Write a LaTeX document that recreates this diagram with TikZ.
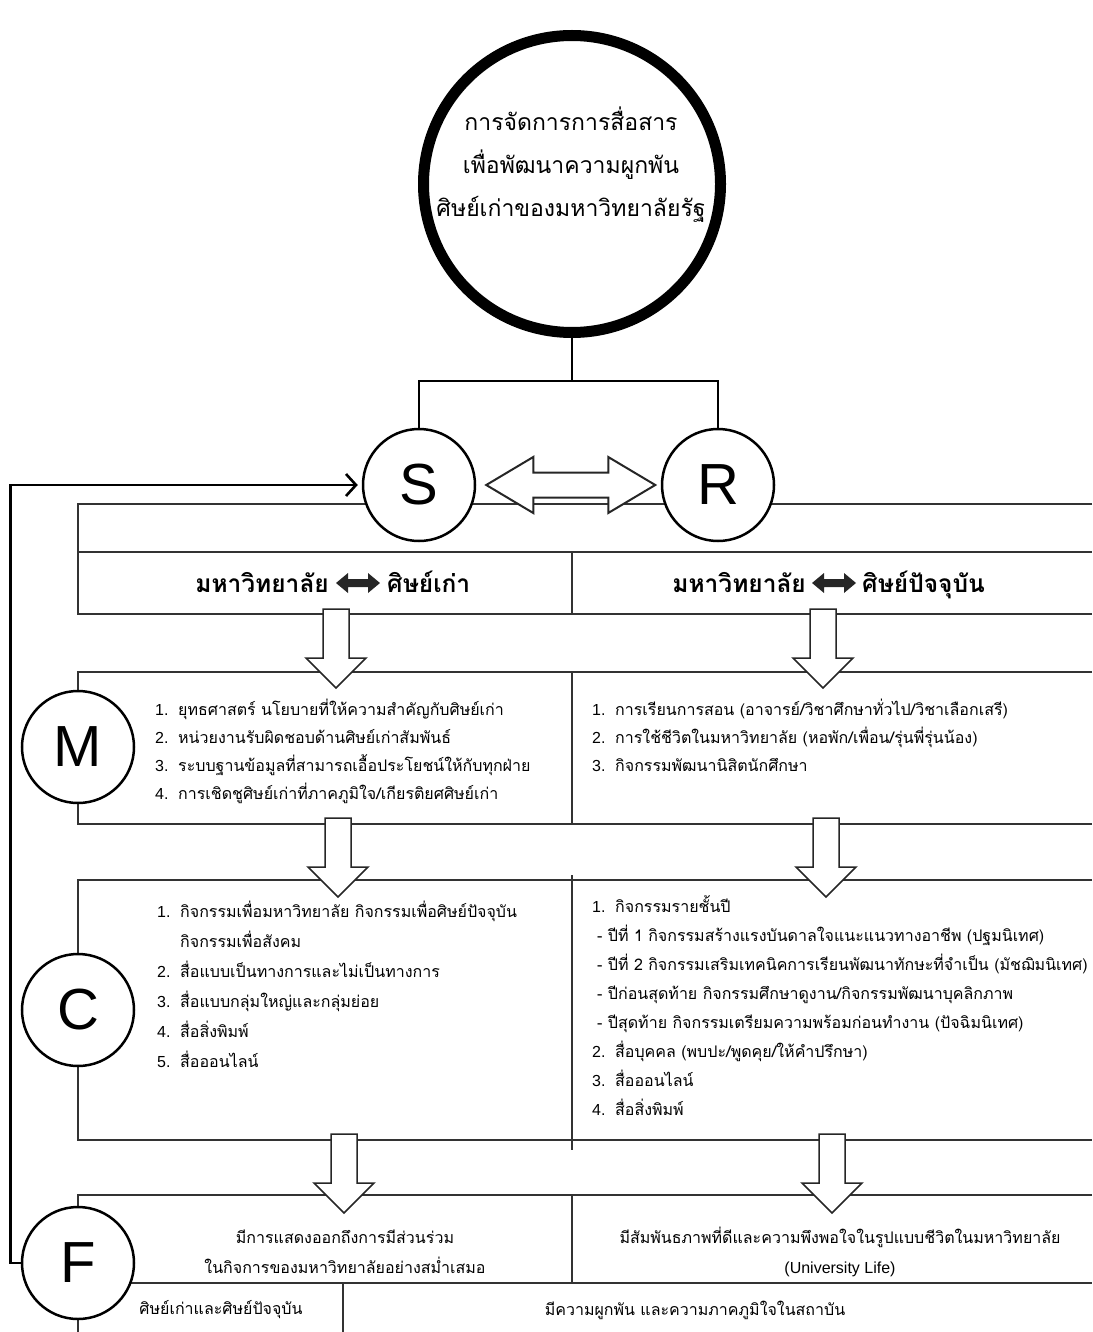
\documentclass[tikz,border=0pt]{standalone}
\usepackage{fontspec}
\setmainfont{Liberation Sans}
\newfontfamily\latinfont{Liberation Sans}
\newfontfamily\thaifont[Script=Thai]{Loma}
\usetikzlibrary{arrows.meta}

\newcommand{\blockdown}[2]{%
  \draw[blockarrow, shift={(#1)}] (-13,0) -- (13,0) -- (13,#2-30) -- (30,#2-30)
    -- (0,#2) -- (-30,#2-30) -- (-13,#2-30) -- cycle;}
\newcommand{\solidtwoway}[1]{%
  \fill[black!85, shift={(#1)}] (-22,0) -- (-10,-10) -- (-10,-4) -- (10,-4)
    -- (10,-10) -- (22,0) -- (10,10) -- (10,4) -- (-10,4) -- (-10,10) -- cycle;}
\newcommand{\itm}[1]{\makebox[23pt][l]{\latinfont #1}}

\tikzset{
  boxline/.style={draw=black!80, line width=1.5pt},
  blockarrow/.style={draw=black!85, line width=1.5pt, fill=white},
  letter/.style={draw, circle, fill=white, line width=2.5pt, minimum size=112pt,
    inner sep=0pt, font=\latinfont\fontsize{58}{58}\selectfont},
  headtext/.style={inner sep=0pt, font=\thaifont\bfseries\fontsize{24.5}{28}\selectfont},
  listtext/.style={inner sep=0pt, anchor=north west, align=left},
  midtext/.style={inner sep=0pt, align=center, font=\thaifont\fontsize{16}{30}\selectfont},
}

\begin{document}
\begin{tikzpicture}[x=1pt, y=-1pt]
    \useasboundingbox (0,0) rectangle (1092,1332);

    % title circle
    \node[draw, circle, line width=11pt, minimum size=297pt] (title) at (572,184) {};
    \node[align=center, inner sep=0pt, font=\thaifont\fontsize{23}{43}\selectfont]
        (title-text) at (571,165)
        {การจัดการการสื่อสาร\\เพื่อพัฒนาความผูกพัน\\ศิษย์เก่าของมหาวิทยาลัยรัฐ};

    % frames
    \draw[boxline] (1092,504) -- (78,504) -- (78,614) -- (1092,614);
    \draw[boxline] (78,552) -- (1092,552);
    \draw[boxline] (572,552) -- (572,614);
    \draw[boxline] (1092,672) -- (78,672) -- (78,824) -- (1092,824);
    \draw[boxline] (572,672) -- (572,824);
    \draw[boxline] (1092,880) -- (78,880) -- (78,1140) -- (1092,1140);
    \draw[boxline] (572,875) -- (572,1150);
    \draw[boxline] (1092,1195) -- (78,1195) -- (78,1332);
    \draw[boxline] (78,1283) -- (1092,1283);
    \draw[boxline] (572,1195) -- (572,1283);
    \draw[boxline] (343,1283) -- (343,1332);

    % sender / receiver
    \node[letter] (S) at (419,485) {S};
    \node[letter] (R) at (718,485) {R};
    \coordinate (bar) at (572,381);
    \draw[line width=2.5pt] (title.south) -- (bar);
    \draw[line width=2.5pt] (S.north) |- (bar) -| (R.north);
    \draw[blockarrow, line width=2pt] ([xshift=10pt]S.east) -- ++(47,-28) -- ++(0,15.5)
        -- ++(75,0) -- ++(0,-15.5) -- ++(47,28) -- ++(-47,28) -- ++(0,-15.5)
        -- ++(-75,0) -- ++(0,15.5) -- cycle;

    % M C F
    \node[letter] (M) at (78,747) {M};
    \node[letter] (C) at (78,1010) {C};
    \node[letter] (F) at (78,1263) {F};
    \draw[line width=2.6pt, -{Straight Barb[length=10pt, width=22pt]}, shorten >=4pt]
        (F.west) -- ++(-10,0) |- (S.west);

    % block arrows
    \foreach \y/\xl/\xr in {609/336/823, 818/338/826, 1134/344/832} {
        \blockdown{\xl,\y}{79}
        \blockdown{\xr,\y}{79}
    }

    % headers
    \solidtwoway{358,583}
    \node[headtext, anchor=base east] (hl-uni) at (329,592) {มหาวิทยาลัย};
    \node[headtext, anchor=base west] (hl-alum) at (387,592) {ศิษย์เก่า};
    \solidtwoway{834,583}
    \node[headtext, anchor=base east] (hr-uni) at (806,592) {มหาวิทยาลัย};
    \node[headtext, anchor=base west] (hr-stud) at (862,592) {ศิษย์ปัจจุบัน};

    % lists
    \node[listtext, font=\thaifont\fontsize{16}{28}\selectfont] (m-left) at (155,699)
        {\itm{1.}ยุทธศาสตร์ นโยบายที่ให้ความสำคัญกับศิษย์เก่า\\
         \itm{2.}หน่วยงานรับผิดชอบด้านศิษย์เก่าสัมพันธ์\\
         \itm{3.}ระบบฐานข้อมูลที่สามารถเอื้อประโยชน์ให้กับทุกฝ่าย\\
         \itm{4.}การเชิดชูศิษย์เก่าที่ภาคภูมิใจ/เกียรติยศศิษย์เก่า};
    \node[listtext, font=\thaifont\fontsize{16}{28}\selectfont] (m-right) at (592,699)
        {\itm{1.}การเรียนการสอน (อาจารย์/วิชาศึกษาทั่วไป/วิชาเลือกเสรี)\\
         \itm{2.}การใช้ชีวิตในมหาวิทยาลัย (หอพัก/เพื่อน/รุ่นพี่รุ่นน้อง)\\
         \itm{3.}กิจกรรมพัฒนานิสิตนักศึกษา};
    \node[listtext, font=\thaifont\fontsize{16}{30}\selectfont] (c-left) at (157,901)
        {\itm{1.}กิจกรรมเพื่อมหาวิทยาลัย กิจกรรมเพื่อศิษย์ปัจจุบัน\\
         \itm{}กิจกรรมเพื่อสังคม\\
         \itm{2.}สื่อแบบเป็นทางการและไม่เป็นทางการ\\
         \itm{3.}สื่อแบบกลุ่มใหญ่และกลุ่มย่อย\\
         \itm{4.}สื่อสิ่งพิมพ์\\
         \itm{5.}สื่อออนไลน์};
    \node[listtext, font=\thaifont\fontsize{16}{29}\selectfont] (c-right) at (592,895)
        {\itm{1.}กิจกรรมรายชั้นปี\\
         \hspace*{5pt}- ปีที่ 1 กิจกรรมสร้างแรงบันดาลใจแนะแนวทางอาชีพ (ปฐมนิเทศ)\\
         \hspace*{5pt}- ปีที่ 2 กิจกรรมเสริมเทคนิคการเรียนพัฒนาทักษะที่จำเป็น (มัชฌิมนิเทศ)\\
         \hspace*{5pt}- ปีก่อนสุดท้าย กิจกรรมศึกษาดูงาน/กิจกรรมพัฒนาบุคลิกภาพ\\
         \hspace*{5pt}- ปีสุดท้าย กิจกรรมเตรียมความพร้อมก่อนทำงาน (ปัจฉิมนิเทศ)\\
         \itm{2.}สื่อบุคคล (พบปะ/พูดคุย/ให้คำปรึกษา)\\
         \itm{3.}สื่อออนไลน์\\
         \itm{4.}สื่อสิ่งพิมพ์};

    % results
    \node[midtext] (f-left) at (345,1252)
        {มีการแสดงออกถึงการมีส่วนร่วม\\ในกิจการของมหาวิทยาลัยอย่างสม่ำเสมอ};
    \node[midtext] (f-right) at (840,1252)
        {มีสัมพันธภาพที่ดีและความพึงพอใจในรูปแบบชีวิตในมหาวิทยาลัย\\{\latinfont (University Life)}};
    \node[midtext] (b-left) at (221,1310) {ศิษย์เก่าและศิษย์ปัจจุบัน};
    \node[midtext] (b-right) at (695,1310) {มีความผูกพัน และความภาคภูมิใจในสถาบัน};
\end{tikzpicture}
\end{document}
